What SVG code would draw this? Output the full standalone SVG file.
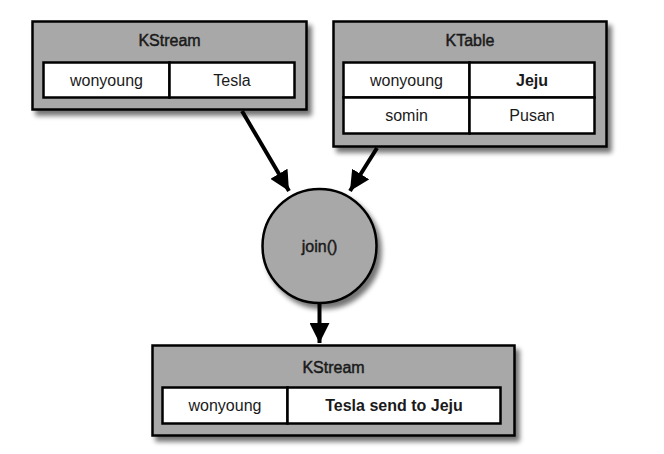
<svg xmlns="http://www.w3.org/2000/svg" width="664" height="454" viewBox="0 0 664 454">
<defs>
<filter id="sh" x="-10%" y="-10%" width="125%" height="130%">
<feGaussianBlur in="SourceAlpha" stdDeviation="2.5"/>
<feOffset dx="4" dy="5" result="b"/>
<feComponentTransfer><feFuncA type="linear" slope="0.55"/></feComponentTransfer>
<feMerge><feMergeNode/><feMergeNode in="SourceGraphic"/></feMerge>
</filter>
<marker id="ah" viewBox="0 0 10 10" refX="10" refY="5" markerWidth="5" markerHeight="5" orient="auto" markerUnits="strokeWidth">
<path d="M0,0 L10,5 L0,10 Z" fill="#000"/>
</marker>
</defs>
<style>
.box{fill:#a8a8a8;stroke:#000;stroke-width:2.5}
.cell{fill:#fff;stroke:#000;stroke-width:2.5}
.t{font-family:"Liberation Sans",Arial,sans-serif;font-size:16px;fill:#1a1a1a;text-anchor:middle;dominant-baseline:central}
.h{stroke:#1a1a1a;stroke-width:0.45px}
.b{font-weight:bold}
.con{stroke:#000;stroke-width:4;fill:none;marker-end:url(#ah)}
</style>
<rect width="664" height="454" fill="#fff"/>
<g id="kstream-in">
<rect class="box" x="32.5" y="21.5" width="274" height="88" filter="url(#sh)"/>
<text class="t h" x="169.5" y="40">KStream</text>
<rect class="cell" x="43.5" y="62.5" width="126" height="35"/>
<rect class="cell" x="169.5" y="62.5" width="125" height="35"/>
<text class="t" x="106.5" y="80">wonyoung</text>
<text class="t" x="232" y="80">Tesla</text>
</g>
<g id="ktable">
<rect class="box" x="333.5" y="21.5" width="273" height="125" filter="url(#sh)"/>
<text class="t h" x="470" y="40">KTable</text>
<rect class="cell" x="343.5" y="62.5" width="126" height="35"/>
<rect class="cell" x="469.5" y="62.5" width="125" height="35"/>
<rect class="cell" x="343.5" y="97.5" width="126" height="36"/>
<rect class="cell" x="469.5" y="97.5" width="125" height="36"/>
<text class="t" x="406.5" y="80">wonyoung</text>
<text class="t b" x="532" y="80">Jeju</text>
<text class="t" x="406.5" y="115.5">somin</text>
<text class="t" x="532" y="115.5">Pusan</text>
</g>
<g id="join">
<circle class="box" cx="319.5" cy="246" r="57" filter="url(#sh)"/>
<text class="t h" x="319.5" y="246">join()</text>
</g>
<g id="kstream-out">
<rect class="box" x="152.5" y="345.5" width="362" height="90" filter="url(#sh)"/>
<text class="t h" x="333.5" y="367">KStream</text>
<rect class="cell" x="162.5" y="387.5" width="125" height="36"/>
<rect class="cell" x="287.5" y="387.5" width="213" height="36"/>
<text class="t" x="225" y="405.5">wonyoung</text>
<text class="t b" x="394" y="405.5">Tesla send to Jeju</text>
</g>
<g id="connectors">
<line class="con" x1="242" y1="111" x2="289" y2="191"/>
<line class="con" x1="377" y1="148" x2="350" y2="191"/>
<line class="con" x1="319.5" y1="303" x2="319.5" y2="343"/>
</g>
</svg>
